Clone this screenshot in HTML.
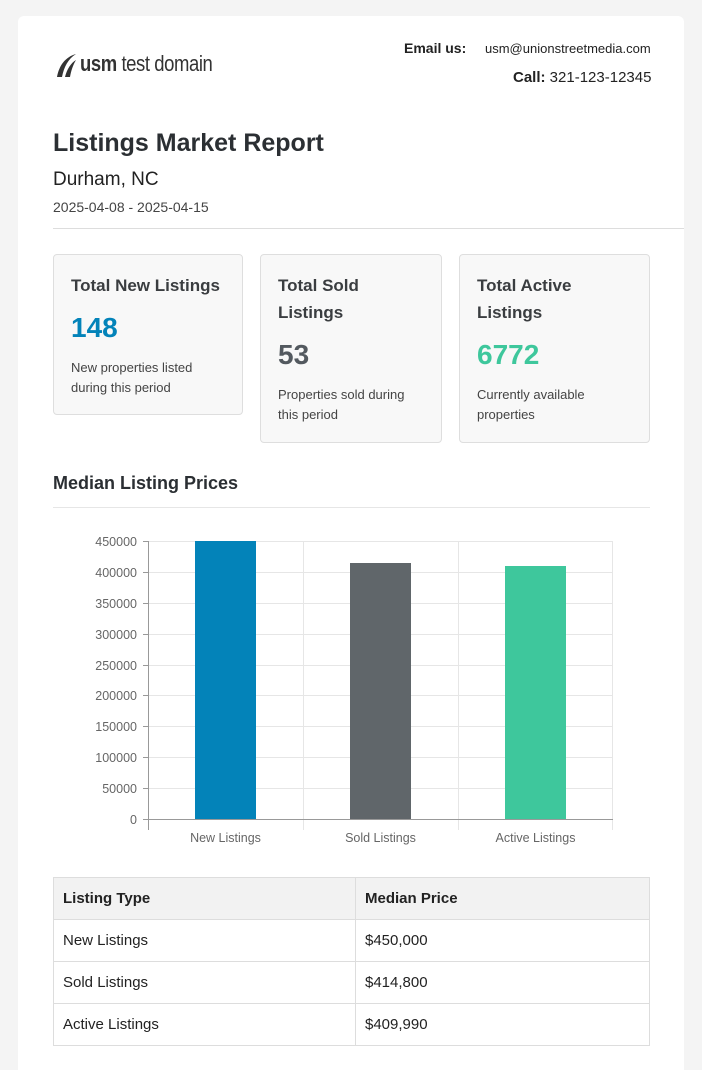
<!DOCTYPE html>
<html><head><meta charset="utf-8"><style>
*{margin:0;padding:0;box-sizing:border-box}
html,body{width:702px;height:1070px;overflow:hidden}
body{background:#f4f4f4;font-family:"Liberation Sans",Arial,sans-serif;position:relative;color:#333}
.wrap{position:absolute;left:18px;top:16px;width:666px;height:1070px;background:#fff;border-radius:6px}
.a{position:absolute;white-space:nowrap}
.card{position:absolute;background:#f8f8f8;border:1px solid #dedede;border-radius:4px}
.card h3{position:absolute;left:17px;font-size:17px;font-weight:bold;color:#3a3d40;line-height:27px}
.card .n{position:absolute;left:17px;font-size:28px;font-weight:bold}
.card p{position:absolute;left:17px;font-size:13px;line-height:20px;color:#444}
table{position:absolute;left:53px;top:877px;width:597px;border-collapse:collapse;font-size:15px;color:#222}
td,th{border:1px solid #ddd;height:42px;padding:0 9px;text-align:left}
th{background:#f2f2f2;font-weight:bold}
</style></head><body>
<div class="wrap"></div>
<svg class="a" style="left:55px;top:52px" width="22" height="26" viewBox="0 0 22 26"><path d="M2 25 C4 14 10 5 21 2 C13 7 9 15 7 25Z" fill="#333"/><path d="M10 25 C12 17 16 11 21 8 C18 13 16 19 15 25Z" fill="#333"/></svg>
<div class="a" style="left:80px;top:51px;font-size:22px;color:#333;letter-spacing:-0.5px;transform:scaleX(0.84);transform-origin:0 0"><b>usm</b> test domain</div>
<div class="a" style="left:404px;top:40px;font-size:14px;font-weight:bold;color:#222">Email us:</div>
<div class="a" style="left:485px;top:41px;font-size:13px;color:#222">usm@unionstreetmedia.com</div>
<div class="a" style="left:513px;top:69px;font-size:15px;color:#222"><b>Call:</b> 321-123-12345</div>
<div class="a" style="left:53px;top:129px;font-size:25px;font-weight:bold;color:#2b2f33">Listings Market Report</div>
<div class="a" style="left:53px;top:169px;font-size:19px;color:#222">Durham, NC</div>
<div class="a" style="left:53px;top:199px;font-size:14px;color:#444">2025-04-08 - 2025-04-15</div>
<div class="a" style="left:53px;top:228px;width:631px;height:1px;background:#ddd"></div>

<div class="card" style="left:53px;top:254px;width:190px;height:161px">
<h3 style="top:17px">Total New Listings</h3>
<div class="n" style="top:57px;color:#0383b9">148</div>
<p style="top:103px">New properties listed<br>during this period</p></div>
<div class="card" style="left:260px;top:254px;width:182px;height:189px">
<h3 style="top:17px">Total Sold<br>Listings</h3>
<div class="n" style="top:84px;color:#53595f">53</div>
<p style="top:130px">Properties sold during<br>this period</p></div>
<div class="card" style="left:459px;top:254px;width:191px;height:189px">
<h3 style="top:17px">Total Active<br>Listings</h3>
<div class="n" style="top:84px;color:#3ec79c">6772</div>
<p style="top:130px">Currently available<br>properties</p></div>

<div class="a" style="left:53px;top:473px;font-size:18px;font-weight:bold;color:#2b2f33">Median Listing Prices</div>
<div class="a" style="left:53px;top:507px;width:597px;height:1px;background:#e6e6e6"></div>

<svg class="a" style="left:0;top:530px" width="702" height="320" font-family="Liberation Sans,Arial,sans-serif" font-size="12.5" fill="#666">
<g stroke="#e6e6e6" stroke-width="1">
<line x1="148" x2="613" y1="11.5" y2="11.5"/><line x1="148" x2="613" y1="42.5" y2="42.5"/><line x1="148" x2="613" y1="73.5" y2="73.5"/><line x1="148" x2="613" y1="104.5" y2="104.5"/><line x1="148" x2="613" y1="135.5" y2="135.5"/><line x1="148" x2="613" y1="165.5" y2="165.5"/><line x1="148" x2="613" y1="196.5" y2="196.5"/><line x1="148" x2="613" y1="227.5" y2="227.5"/><line x1="148" x2="613" y1="258.5" y2="258.5"/>
<line x1="303.5" x2="303.5" y1="11" y2="300"/><line x1="458.5" x2="458.5" y1="11" y2="300"/><line x1="612.5" x2="612.5" y1="11" y2="300"/>
</g>
<g stroke="#999"><line x1="148.5" x2="148.5" y1="11" y2="300"/><line x1="143" x2="613" y1="289.5" y2="289.5"/>
<line x1="143" x2="148" y1="11.5" y2="11.5"/><line x1="143" x2="148" y1="42.5" y2="42.5"/><line x1="143" x2="148" y1="73.5" y2="73.5"/><line x1="143" x2="148" y1="104.5" y2="104.5"/><line x1="143" x2="148" y1="135.5" y2="135.5"/><line x1="143" x2="148" y1="165.5" y2="165.5"/><line x1="143" x2="148" y1="196.5" y2="196.5"/><line x1="143" x2="148" y1="227.5" y2="227.5"/><line x1="143" x2="148" y1="258.5" y2="258.5"/></g>
<rect x="195" y="11" width="61" height="278" fill="#0383b9"/>
<rect x="350" y="33" width="61" height="256" fill="#60666a"/>
<rect x="505" y="36" width="61" height="253" fill="#3ec79c"/>
<g text-anchor="end"><text x="137" y="16">450000</text><text x="137" y="47">400000</text><text x="137" y="78">350000</text><text x="137" y="109">300000</text><text x="137" y="140">250000</text><text x="137" y="170">200000</text><text x="137" y="201">150000</text><text x="137" y="232">100000</text><text x="137" y="263">50000</text><text x="137" y="294">0</text></g>
<g text-anchor="middle"><text x="225.5" y="312">New Listings</text><text x="380.5" y="312">Sold Listings</text><text x="535.5" y="312">Active Listings</text></g>
</svg>

<table>
<tr><th style="width:302px">Listing Type</th><th>Median Price</th></tr>
<tr><td>New Listings</td><td>$450,000</td></tr>
<tr><td>Sold Listings</td><td>$414,800</td></tr>
<tr><td>Active Listings</td><td>$409,990</td></tr>
</table>
</body></html>
